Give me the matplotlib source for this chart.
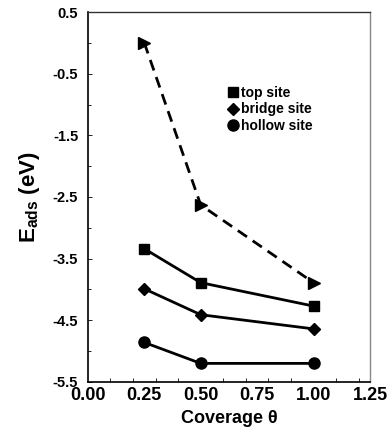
import matplotlib.pyplot as plt
from matplotlib.ticker import FixedLocator
from matplotlib.lines import Line2D

plt.rcParams['font.family'] = ['Liberation Sans', 'DejaVu Sans']
plt.rcParams['mathtext.fontset'] = 'custom'
plt.rcParams['mathtext.rm'] = 'Liberation Sans'
plt.rcParams['mathtext.bf'] = 'Liberation Sans:bold'

coverage = [0.25, 0.5, 1.0]
top_site = [-3.34, -3.89, -4.27]
bridge_site = [-3.99, -4.41, -4.64]
hollow_site = [-4.86, -5.2, -5.2]
other = [0.0, -2.63, -3.89]

fig = plt.figure(figsize=(3.89, 4.32), dpi=100)
ax = fig.add_axes([0.226, 0.116, 0.725, 0.856])

ax.plot(coverage, top_site, 'k-', marker='s', ms=7, lw=2)
ax.plot(coverage, bridge_site, 'k-', marker='D', ms=6, lw=2)
ax.plot(coverage, hollow_site, 'k-', marker='o', ms=8, lw=2)
ax.plot(coverage, other, 'k--', marker='>', ms=9, lw=2, dashes=(4, 2.5))

ax.set_xlim(0, 1.25)
ax.set_ylim(-5.5, 0.5)
ax.set_xticks([0, 0.25, 0.5, 0.75, 1.0, 1.25])
ax.set_xticklabels(['0.00', '0.25', '0.50', '0.75', '1.00', '1.25'], fontweight='bold', fontsize=13)
ax.xaxis.set_minor_locator(FixedLocator([0.1 * i for i in range(1, 13)]))
ax.set_yticks([0.5, -0.5, -1.5, -2.5, -3.5, -4.5, -5.5])
ax.set_yticklabels(['0.5', '-0.5', '-1.5', '-2.5', '-3.5', '-4.5', '-5.5'], fontweight='bold', fontsize=10.5)
ax.yaxis.set_minor_locator(FixedLocator([0, -1, -2, -3, -4, -5]))
ax.tick_params(axis='x', which='major', length=0, pad=4)
ax.tick_params(axis='x', which='minor', direction='in', length=3, width=0.6)
ax.tick_params(axis='y', which='major', direction='in', length=3, width=0.6, pad=7)
ax.tick_params(axis='y', which='minor', direction='in', length=2, width=0.6)

for s in ['left', 'bottom']:
    ax.spines[s].set_linewidth(1.2)
ax.spines['right'].set_linewidth(1)
ax.spines['right'].set_color('#888888')
ax.spines['top'].set_linewidth(1)
ax.spines['top'].set_color('#333333')

ax.set_xlabel('Coverage \u03b8', fontweight='bold', fontsize=13, labelpad=4)
ax.set_ylabel(r'$\mathbf{E_{ads}}$ (eV)', fontweight='bold', fontsize=16, labelpad=8)

handles = [Line2D([], [], color='k', ls='none', marker='s', ms=6.5),
           Line2D([], [], color='k', ls='none', marker='D', ms=6),
           Line2D([], [], color='k', ls='none', marker='o', ms=8)]
ax.legend(handles, ['top site', 'bridge site', 'hollow site'],
          loc='upper left', bbox_to_anchor=(0.455, 0.835), frameon=False,
          handlelength=0.6, handletextpad=0.3, labelspacing=0.2,
          prop={'weight': 'bold', 'size': 10})

plt.savefig('out.png', dpi=100)
